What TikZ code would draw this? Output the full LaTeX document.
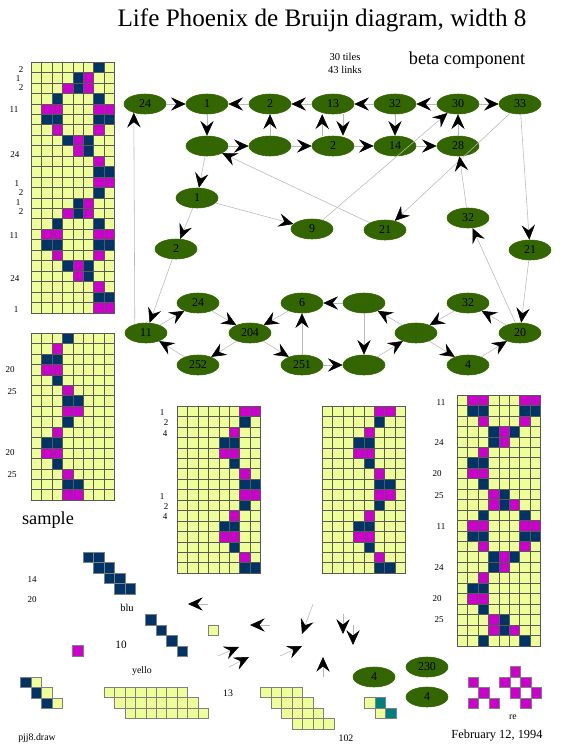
\documentclass[tikz,border=0pt]{standalone}
\usepackage{fontspec}
\setmainfont{Liberation Serif}
\usepackage{xcolor}
\usepackage{tikz}
\usetikzlibrary{arrows.meta,shapes.geometric}
\definecolor{tileyel}{RGB}{238,255,153}
\definecolor{tilenavy}{RGB}{0,51,102}
\definecolor{tilemag}{RGB}{204,0,204}
\definecolor{tileteal}{RGB}{0,128,128}
\definecolor{nodegreen}{RGB}{51,102,0}
\def\cw{10.45}
% one strip of 8 columns: top left, rows, period, navy cells, magenta cells
\newcommand{\tilegrid}[6]{%
  \fill[tileyel] (#1,#2) rectangle ++({8*\cw},{#3*\cw});
  \pgfmathtruncatemacro{\nrep}{#3/#4-1}
  \foreach \kk in {0,...,\nrep}{
    \foreach \rr/\cc in {#5}
      \fill[tilenavy] ({#1+\cc*\cw},{#2+(\rr+\kk*#4)*\cw}) rectangle ++(\cw,\cw);
    \foreach \rr/\cc in {#6}
      \fill[tilemag] ({#1+\cc*\cw},{#2+(\rr+\kk*#4)*\cw}) rectangle ++(\cw,\cw);
  }
  \foreach \ii in {0,...,8}
    \draw[gridline] ({#1+\ii*\cw},#2) -- ++(0,{#3*\cw});
  \foreach \jj in {0,...,#3}
    \draw[gridline] (#1,{#2+\jj*\cw}) -- ++({8*\cw},0);
}
\newcommand{\onecell}[3]{\filldraw[fill=#3, draw=black!50, line width=0.4pt] ({#1},{#2}) rectangle ++(\cw,\cw);}

\begin{document}
\begin{tikzpicture}[x=0.025cm, y=-0.025cm,
  tile/.style={draw=nodegreen, ellipse, fill=nodegreen, inner sep=0pt, minimum width=1.05cm, minimum height=0.5cm, font=\fontsize{8.5}{10}\selectfont},
  arr/.style={draw=gray!55, line width=0.4pt, -{Stealth[length=10.5pt, width=9.5pt, inset=3.8pt, color=black]}},
  gridline/.style={draw=black!65, line width=0.4pt},
  lab/.style={inner sep=0pt, font=\fontsize{6.4}{7}\selectfont},
  big/.style={inner sep=0pt, font=\fontsize{13}{15}\selectfont},
]
\useasboundingbox (0,0) rectangle (562,750);

\node[inner sep=0pt, font=\fontsize{17.9}{20}\selectfont] (title) at (322,20) {Life Phoenix de Bruijn diagram, width 8};
\node[inner sep=0pt, font=\fontsize{7.5}{9}\selectfont] (ntiles) at (345,57) {30 tiles};
\node[inner sep=0pt, font=\fontsize{7.5}{9}\selectfont] (nlinks) at (345,70) {43 links};
\node[big] (beta) at (467,60) {beta component};
\node[big] (sample) at (48,520) {sample};

% strips
\tilegrid{31}{62}{24}{12}{0/6,1/4,2/4,3/2,3/6,5/1,5/2,5/6,5/7,7/3,7/5,8/5,10/6,10/7}{1/5,2/3,2/5,4/1,4/2,4/6,4/7,6/2,6/6,7/4,8/4,9/6,11/6,11/7}
\tilegrid{31}{333}{16}{8}{0/3,2/1,2/2,4/2,6/3,6/4}{1/2,3/1,3/2,5/3,7/3,7/4}
\tilegrid{177}{406}{16}{8}{1/6,3/4,3/5,5/5,7/6,7/7}{0/6,0/7,2/5,4/4,4/5,6/6}
\tilegrid{322}{406}{16}{8}{1/5,3/3,3/4,5/4,7/5,7/6}{0/5,0/6,2/4,4/3,4/4,6/5}
\tilegrid{457}{395}{24}{12}{1/1,1/2,1/6,1/7,3/3,3/5,4/3,6/1,6/2,8/2,9/4,10/4,11/2,11/6}{0/1,0/2,0/6,0/7,2/2,2/6,3/4,4/4,5/2,7/1,7/2,9/3,10/3,10/5}

\foreach \x/\y/\t [count=\i] in {21/70/2,18/79/1,21/88/2,14/110/11,15/155/24,17/184/1,21/193/2,18/203/1,21/212/2,14/236/11,15/279/24,16/310/1}
  \node[lab] (la\i) at (\x,\y) {\t};
\foreach \x/\y/\t [count=\i] in {10/370/20,12/392/25,10/453/20,12/475/25}
  \node[lab] (lb\i) at (\x,\y) {\t};
\foreach \x/\y/\t [count=\i] in {162/413/1,166/423/2,165/434/4,162/497/1,166/507/2,165/517/4}
  \node[lab] (lc\i) at (\x,\y) {\t};
\foreach \x/\y/\t [count=\i] in {441/403/11,439/443/24,437/474/20,439/496/25,441/527/11,439/568/24,437/599/20,439/620/25}
  \node[lab] (ld\i) at (\x,\y) {\t};

% beta component
\node[tile] (t24) at (145,104) {24};
\node[tile] (t1) at (207,104) {1};
\node[tile] (t2) at (270,104) {2};
\node[tile] (t13) at (333,104) {13};
\node[tile] (t32) at (395,104) {32};
\node[tile] (t30) at (458,104) {30};
\node[tile] (t33) at (520,104) {33};
\node[tile] (m1) at (207,146) {};
\node[tile] (m2) at (270,146) {};
\node[tile] (m3) at (333,146) {2};
\node[tile] (m14) at (395,146) {14};
\node[tile] (m28) at (458,146) {28};
\node[tile] (a1) at (197,198) {1};
\node[tile] (a9) at (312,229) {9};
\node[tile] (a21) at (385,230) {21};
\node[tile] (a32) at (468,218) {32};
\node[tile] (b2) at (176,249) {2};
\node[tile] (b21) at (530,250) {21};
\node[tile] (c11) at (146,333) {11};
\node[tile] (c24) at (198,303) {24};
\node[tile] (c252) at (198,365) {252};
\node[tile] (c204) at (250,333) {204};
\node[tile] (c6) at (302,303) {6};
\node[tile] (c251) at (302,365) {251};
\node[tile] (cc) at (364,303) {};
\node[tile] (cd) at (364,365) {};
\node[tile] (ce) at (416,333) {};
\node[tile] (c32) at (468,303) {32};
\node[tile] (c4) at (468,365) {4};
\node[tile] (c20) at (520,333) {20};

\draw[arr] (t24) -- (t1);
\draw[arr] (t2) -- (t1);
\draw[arr] (t13) -- (t2);
\draw[arr] (t32) -- (t13);
\draw[arr] (t30) -- (t32);
\draw[arr] (t30) -- (t33);
\draw[arr] (t1) -- (m1);
\draw[arr] (m2) -- (t2);
\draw[arr] ([xshift=-2.7mm]m3.north) -- ([xshift=-2.7mm]t13.south);
\draw[arr] ([xshift=2.5mm]t13.south) -- ([xshift=2.5mm]m3.north);
\draw[arr] (t32) -- (m14);
\draw[arr] (m28) -- (t30);
\draw[arr] (m1) -- (m2);
\draw[arr] (m2) -- (m3);
\draw[arr] (m3) -- (m14);
\draw[arr] (m14) -- (m28);
\draw[arr] (m1) -- (a1);
\draw[arr] (a21) -- (m1);
\draw[arr] (a9) -- (t30);
\draw[arr] (t33) -- (a21);
\draw[arr] (a32) -- (m28);
\draw[arr] (c20) -- (a32);
\draw[arr] (t33) -- (b21);
\draw[arr] (b21) -- (c20);
\draw[arr] (a1) -- (a9);
\draw[arr] (a1) -- (b2);
\draw[arr] (c11.142) -- (t24.218);
\draw[arr] (b2) -- (c11);
\draw[arr] (c11) -- (c24);
\draw[arr] (c24) -- (c204);
\draw[arr] (c204) -- (c252);
\draw[arr] (c252) -- (c11);
\draw[arr] (c204) -- (c251);
\draw[arr] (c251) -- (c6);
\draw[arr] (c6) -- (c204);
\draw[arr] (cc) -- (c6);
\draw[arr] (cc) -- (cd);
\draw[arr] (c251) -- (cd);
\draw[arr] (cd) -- (ce);
\draw[arr] (ce) -- (cc);
\draw[arr] (ce) -- (c4);
\draw[arr] (c32) -- (ce);
\draw[arr] (c4) -- (c20);
\draw[arr] (c20) -- (c32);

% loose pieces
\foreach \k in {0,...,3}{
  \onecell{83.3+\k*\cw}{552+\k*\cw}{tilenavy}
  \onecell{83.3+(\k+1)*\cw}{552+\k*\cw}{tilenavy}
  \onecell{145.7+\k*\cw}{614.7+\k*\cw}{tilenavy}
}
\onecell{72.7}{645.7}{tilemag}
\onecell{208}{625}{tileyel}
\foreach \k in {0,...,2}{
  \onecell{20.7+\k*\cw}{677+\k*\cw}{tilenavy}
  \onecell{20.7+(\k+1)*\cw}{677+\k*\cw}{tileyel}
}
\foreach \r in {0,...,2}
  \foreach \c in {0,...,7}
    \onecell{104+(\r+\c)*\cw}{687.3+\r*\cw}{tileyel};
\foreach \r in {0,...,3}
  \foreach \c in {0,...,3}
    \onecell{260.7+(\r+\c)*\cw}{687.3+\r*\cw}{tileyel};
\onecell{364.7}{697.7}{tileyel}
\onecell{364.7+\cw}{697.7}{tileteal}
\onecell{364.7+\cw}{697.7+\cw}{tileyel}
\onecell{364.7+2*\cw}{697.7+\cw}{tileteal}
\foreach \x/\y in {0/0,1/1,0/2,2/2,4/-1,3/0,5/0,4/1,6/1,5/2}
  \onecell{468.3+\x*\cw}{677+\y*\cw}{tilemag};

\draw[arr] (208,604) -- (188,604);
\draw[arr] (270,625) -- (250,625);
\draw[arr] (218,656) -- (239,647);
\draw[arr] (229,667) -- (249,657);
\draw[arr] (313,604) -- (302,634);
\draw[arr] (280,656) -- (302,646);
\draw[arr] (323,677) -- (323,657);
\draw[arr] (343,614) -- (343,634);
\draw[arr] (353,625) -- (353,645);

\node[tile] (g4a) at (374,677) {4};
\node[tile] (g230) at (427,667) {230};
\node[tile] (g4b) at (427,697) {4};

\node[lab] (n14) at (32,580) {14};
\node[lab] (n20) at (32,600) {20};
\node[inner sep=0pt, font=\fontsize{7.5}{9}\selectfont] (blu) at (127,608) {blu};
\node[inner sep=0pt, font=\fontsize{8}{9}\selectfont] (n10) at (121,645) {10};
\node[inner sep=0pt, font=\fontsize{7}{8}\selectfont] (yello) at (142,671) {yello};
\node[inner sep=0pt, font=\fontsize{7}{8}\selectfont] (n13) at (228,693) {13};
\node[inner sep=0pt, font=\fontsize{7}{8}\selectfont] (n102) at (346,738) {102};
\node[inner sep=0pt, font=\fontsize{7}{8}\selectfont] (re) at (513,717) {re};
\node[inner sep=0pt, font=\fontsize{7}{8}\selectfont] (draw) at (37,738) {pjj8.draw};
\node[inner sep=0pt, font=\fontsize{8.8}{10}\selectfont] (date) at (497,736) {February 12, 1994};
\end{tikzpicture}
\end{document}
